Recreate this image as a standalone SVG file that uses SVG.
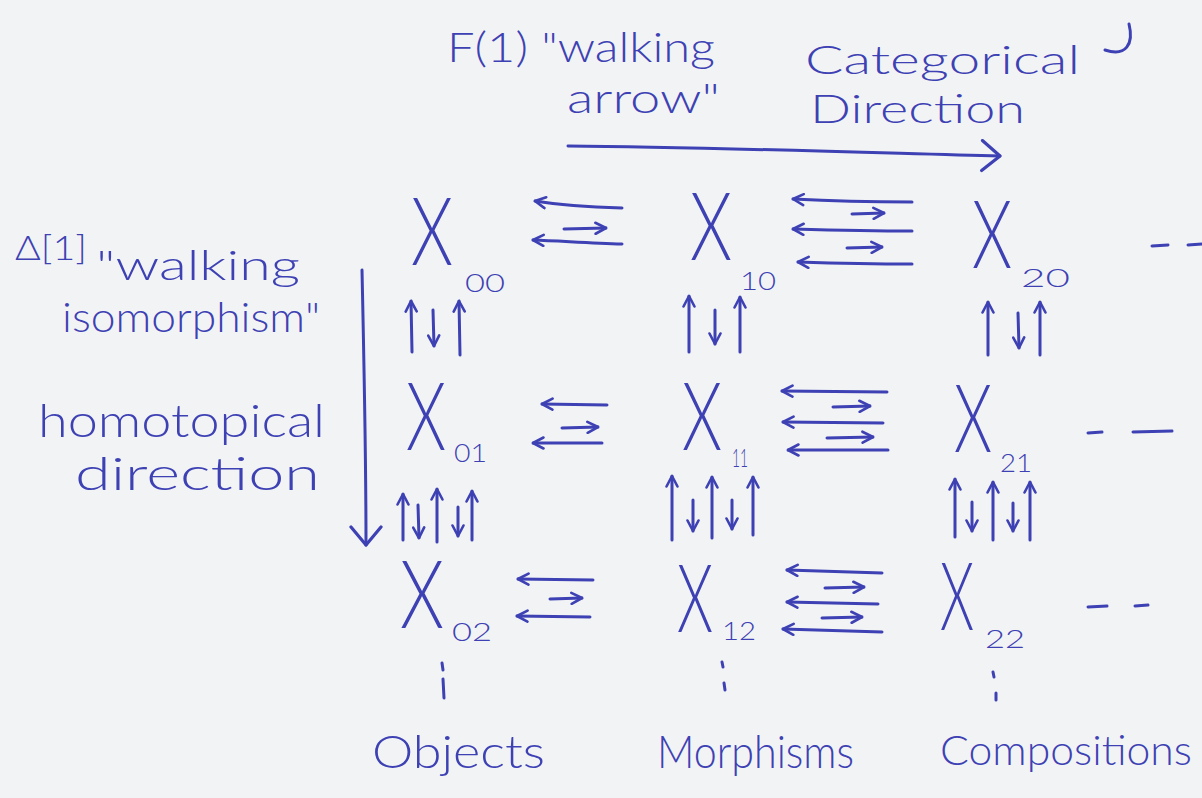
<svg xmlns="http://www.w3.org/2000/svg" width="1202" height="798" viewBox="0 0 1202 798">
  <defs>
    <style>
      .ink { fill: #3d41b3; font-family: Lato, "Liberation Sans", sans-serif; font-weight: 300; }
      .label { font-size: 42px; }
      .big { font-size: 67px; }
      .sub { font-size: 26px; }
      .stroke { fill: none; stroke: #3d41b3; stroke-width: 3; stroke-linecap: round; stroke-linejoin: round; }
      .arrow { marker-end: url(#head); }
      .long { marker-end: url(#bighead); }
    </style>
    <marker id="head" viewBox="0 0 14 14" refX="12.5" refY="7" markerWidth="14" markerHeight="14" markerUnits="userSpaceOnUse" orient="auto">
      <path d="M2,1.5 L12.5,7 L2,12.5" fill="none" stroke="#3d41b3" stroke-width="2.6" stroke-linecap="round" stroke-linejoin="round"/>
    </marker>
    <marker id="bighead" viewBox="0 0 24 34" refX="21" refY="17" markerWidth="24" markerHeight="34" markerUnits="userSpaceOnUse" orient="auto">
      <path d="M3,2 L21,17 L3,32" fill="none" stroke="#3d41b3" stroke-width="3.2" stroke-linecap="round" stroke-linejoin="round"/>
    </marker>
  </defs>

  <rect width="1202" height="798" fill="#f2f3f5"/>

  <!-- direction labels -->
  <g id="labels" class="ink label">
    <text x="447" y="62" textLength="268" lengthAdjust="spacingAndGlyphs">F(1) "walking</text>
    <text x="567" y="113" textLength="153" lengthAdjust="spacingAndGlyphs">arrow"</text>
    <text x="805" y="74" textLength="275" lengthAdjust="spacingAndGlyphs" font-size="39">Categorical</text>
    <text x="810" y="123" textLength="215" lengthAdjust="spacingAndGlyphs" font-size="39">Direction</text>
    <text x="15" y="260" textLength="72" lengthAdjust="spacingAndGlyphs" font-size="34">Δ[1]</text>
    <text x="96" y="280" textLength="204" lengthAdjust="spacingAndGlyphs">"walking</text>
    <text x="62" y="332" textLength="258" lengthAdjust="spacingAndGlyphs">isomorphism"</text>
    <text x="38" y="437" textLength="287" lengthAdjust="spacingAndGlyphs" font-size="46">homotopical</text>
    <text x="75" y="490" textLength="245" lengthAdjust="spacingAndGlyphs" font-size="46">direction</text>
    <text x="372" y="768" textLength="173" lengthAdjust="spacingAndGlyphs" font-size="46">Objects</text>
    <text x="657" y="768" textLength="197" lengthAdjust="spacingAndGlyphs" font-size="46">Morphisms</text>
    <text x="940" y="765" textLength="252" lengthAdjust="spacingAndGlyphs" font-size="41">Compositions</text>
  </g>

  <!-- stray pen mark beside the heading -->
  <path class="stroke" d="M1129,24 C1134,44 1126,57 1105,50"/>

  <!-- objects of the bisimplicial grid (tall X: glyph stretched vertically) -->
  <g id="X00" class="ink"><text class="big" transform="translate(411,265) scale(1,1.4)" textLength="42" lengthAdjust="spacingAndGlyphs">X</text><text class="sub" x="465" y="292" textLength="40" lengthAdjust="spacingAndGlyphs">00</text></g>
  <g id="X10" class="ink"><text class="big" transform="translate(690,260) scale(1,1.4)" textLength="42" lengthAdjust="spacingAndGlyphs">X</text><text class="sub" x="740" y="290" textLength="36" lengthAdjust="spacingAndGlyphs">10</text></g>
  <g id="X20" class="ink"><text class="big" transform="translate(972,268) scale(1,1.4)" textLength="40" lengthAdjust="spacingAndGlyphs">X</text><text class="sub" x="1021" y="287" textLength="49" lengthAdjust="spacingAndGlyphs">20</text></g>
  <g id="X01" class="ink"><text class="big" transform="translate(406,450) scale(1,1.4)" textLength="40" lengthAdjust="spacingAndGlyphs">X</text><text class="sub" x="454" y="462" font-size="20" textLength="33" lengthAdjust="spacingAndGlyphs">01</text></g>
  <g id="X11" class="ink"><text class="big" transform="translate(682,450) scale(1,1.4)" textLength="40" lengthAdjust="spacingAndGlyphs">X</text><text class="sub" x="732" y="467" font-size="20" textLength="16" lengthAdjust="spacingAndGlyphs">11</text></g>
  <g id="X21" class="ink"><text class="big" transform="translate(954,452) scale(1,1.4)" textLength="38" lengthAdjust="spacingAndGlyphs">X</text><text class="sub" x="1000" y="472" textLength="32" lengthAdjust="spacingAndGlyphs">21</text></g>
  <g id="X02" class="ink"><text class="big" transform="translate(400,628) scale(1,1.4)" textLength="44" lengthAdjust="spacingAndGlyphs">X</text><text class="sub" x="452" y="641" font-size="20" textLength="40" lengthAdjust="spacingAndGlyphs">02</text></g>
  <g id="X12" class="ink"><text class="big" transform="translate(677,632) scale(1,1.4)" textLength="36" lengthAdjust="spacingAndGlyphs">X</text><text class="sub" x="722" y="640" textLength="34" lengthAdjust="spacingAndGlyphs">12</text></g>
  <g id="X22" class="ink"><text class="big" transform="translate(940,630) scale(1,1.4)" textLength="34" lengthAdjust="spacingAndGlyphs">X</text><text class="sub" x="985" y="648" font-size="22" textLength="40" lengthAdjust="spacingAndGlyphs">22</text></g>

  <g id="connectors" class="stroke">
    <!-- direction arrows -->
    <path class="long" d="M568,146 C700,147 850,152 1000,156"/>
    <path class="long" d="M362,270 C364,360 366,450 366,545"/>

    <!-- row 0 face / degeneracy maps -->
    <path class="arrow" d="M622,208 C590,207 560,205 535,201"/>
    <path class="arrow" d="M564,229 L606,228"/>
    <path class="arrow" d="M622,244 C590,243 560,241 533,240"/>
    <path class="arrow" d="M912,202 C870,202 830,201 793,199"/>
    <path class="arrow" d="M852,214 L884,213"/>
    <path class="arrow" d="M912,231 C870,231 830,230 793,229"/>
    <path class="arrow" d="M847,248 L882,247"/>
    <path class="arrow" d="M912,264 C870,264 830,263 798,262"/>

    <!-- row 1 -->
    <path class="arrow" d="M607,405 L542,404"/>
    <path class="arrow" d="M562,428 L598,427"/>
    <path class="arrow" d="M602,443 L533,443"/>
    <path class="arrow" d="M887,392 L782,391"/>
    <path class="arrow" d="M833,407 L870,406"/>
    <path class="arrow" d="M883,423 L783,422"/>
    <path class="arrow" d="M827,438 L873,437"/>
    <path class="arrow" d="M888,450 L788,450"/>

    <!-- row 2 -->
    <path class="arrow" d="M593,580 L518,579"/>
    <path class="arrow" d="M550,599 L582,598"/>
    <path class="arrow" d="M590,617 L517,616"/>
    <path class="arrow" d="M882,573 L787,570"/>
    <path class="arrow" d="M825,588 L864,587"/>
    <path class="arrow" d="M878,604 L787,602"/>
    <path class="arrow" d="M822,618 L862,617"/>
    <path class="arrow" d="M882,632 L783,629"/>

    <!-- column maps between rows 0 and 1 -->
    <path class="arrow" d="M412,352 L411,301"/>
    <path class="arrow" d="M433,310 L434,346"/>
    <path class="arrow" d="M460,355 L459,301"/>
    <path class="arrow" d="M689,352 L689,296"/>
    <path class="arrow" d="M715,310 L715,344"/>
    <path class="arrow" d="M740,352 L740,297"/>
    <path class="arrow" d="M988,355 L988,302"/>
    <path class="arrow" d="M1018,313 L1019,348"/>
    <path class="arrow" d="M1040,355 L1040,302"/>

    <!-- column maps between rows 1 and 2 -->
    <path class="arrow" d="M403,540 L403,494"/>
    <path class="arrow" d="M418,505 L419,538"/>
    <path class="arrow" d="M437,542 L437,489"/>
    <path class="arrow" d="M458,507 L458,536"/>
    <path class="arrow" d="M472,540 L472,491"/>
    <path class="arrow" d="M672,540 L672,476"/>
    <path class="arrow" d="M693,500 L693,531"/>
    <path class="arrow" d="M712,538 L712,477"/>
    <path class="arrow" d="M732,500 L732,529"/>
    <path class="arrow" d="M753,535 L753,477"/>
    <path class="arrow" d="M955,537 L955,479"/>
    <path class="arrow" d="M972,502 L972,531"/>
    <path class="arrow" d="M993,540 L993,482"/>
    <path class="arrow" d="M1013,503 L1013,531"/>
    <path class="arrow" d="M1030,540 L1030,482"/>

    <!-- continuation dashes -->
    <path d="M1152,246 L1168,245 M1188,245 L1202,244"/>
    <path d="M1088,433 L1102,432 M1133,432 L1172,431"/>
    <path d="M1088,607 L1107,606 M1135,606 L1148,605"/>

    <!-- continuation dots below the last row -->
    <path d="M442,663 L443,670 M443,679 L444,698"/>
    <path d="M722,662 L723,667 M724,683 L725,690"/>
    <path d="M993,672 L994,677 M996,693 L996,700"/>
  </g>
</svg>
